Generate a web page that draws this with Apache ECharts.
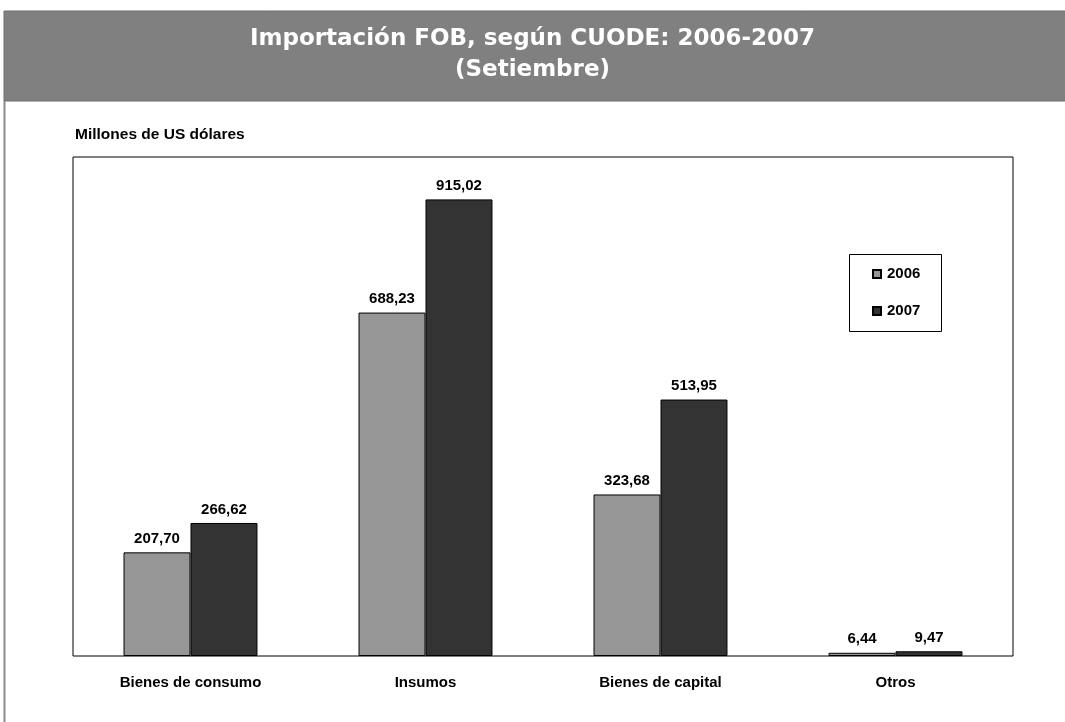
<!DOCTYPE html>
<html><head><meta charset="utf-8">
<script src="https://cdn.jsdelivr.net/npm/echarts@6/dist/echarts.min.js"></script>
<style>html,body{margin:0;padding:0;background:#fff}#c{width:1065px;height:722px}</style>
</head><body><div id="c"></div>
<script>
const categories = ['Bienes de consumo', 'Insumos', 'Bienes de capital', 'Otros'];
const values2006 = [207.70, 688.23, 323.68, 6.44];
const values2007 = [266.62, 915.02, 513.95, 9.47];
const seriesNames = ['2006', '2007'];

const chart = echarts.init(document.getElementById('c'), null, {renderer: 'canvas'});
const fmt = p => p.value.toFixed(2).replace('.', ',');
const font = '"Liberation Sans", Arial, sans-serif';
const titleFont = '"DejaVu Sans", Verdana, sans-serif';
chart.setOption({
  animation: false,
  backgroundColor: '#fff',
  graphic: [
    {type: 'rect', shape: {x: 4, y: 11, width: 1062, height: 90}, style: {fill: '#808080', stroke: '#6e6e6e', lineWidth: 1}, z: 0},
    {type: 'line', shape: {x1: 4.5, y1: 101, x2: 4.5, y2: 722}, style: {stroke: '#8a8a8a', lineWidth: 2}},
    {type: 'text', left: 'center', top: 24, style: {text: 'Importación FOB, según CUODE: 2006-2007\n(Setiembre)', fill: '#fff', font: 'bold 23px ' + titleFont, textAlign: 'center', lineHeight: 31}},
    {type: 'text', left: 75, top: 127, style: {text: 'Millones de US dólares', fill: '#000', font: 'bold 15.5px ' + font}},
    {type: 'rect', shape: {x: 849.5, y: 254.5, width: 92, height: 77}, style: {fill: '#fff', stroke: '#000', lineWidth: 1}, z: 5}
  ],
  legend: {
    data: seriesNames, orient: 'vertical', left: 872, top: 266, itemGap: 21, padding: 0,
    itemWidth: 8, itemHeight: 8, z: 10,
    textStyle: {fontFamily: font, fontSize: 15, lineHeight: 16, fontWeight: 'bold', color: '#000', padding: [0,0,0,1]},
    icon: 'rect'
  },
  grid: {left: 73, top: 157, width: 940, height: 499, show: true, borderColor: '#000', borderWidth: 1, backgroundColor: 'transparent'},
  xAxis: {
    type: 'category', data: categories,
    axisLine: {show: false}, axisTick: {show: false},
    axisLabel: {fontFamily: font, fontSize: 15, fontWeight: 'bold', color: '#000', margin: 19}
  },
  yAxis: {type: 'value', min: 0, max: 1000, show: false, splitLine: {show: false}},
  series: [
    {name: '2006', type: 'bar', data: values2006, barGap: '0%', barCategoryGap: '43%',
     itemStyle: {color: '#969696', borderColor: '#000', borderWidth: 1},
     label: {show: true, position: 'top', distance: 6, formatter: fmt, fontFamily: font, fontSize: 15, fontWeight: 'bold', color: '#000'}},
    {name: '2007', type: 'bar', data: values2007,
     itemStyle: {color: '#333333', borderColor: '#000', borderWidth: 1},
     label: {show: true, position: 'top', distance: 6, formatter: fmt, fontFamily: font, fontSize: 15, fontWeight: 'bold', color: '#000'}}
  ]
});
</script></body></html>
